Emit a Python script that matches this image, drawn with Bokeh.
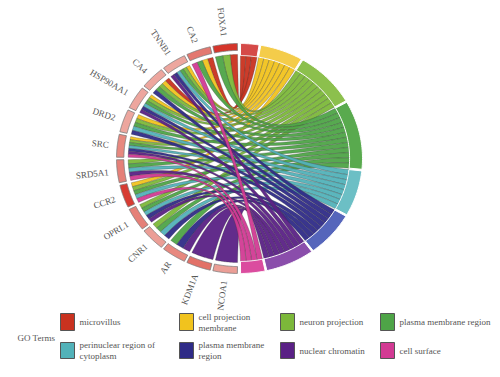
import numpy as np
from bokeh.plotting import figure
from bokeh.models import Range1d
from bokeh.core.properties import value
from bokeh.embed import file_html
from bokeh.resources import INLINE

# ---------------- data ----------------
genes = ["NCOA1", "KDM1A", "AR", "CNR1", "OPRL1", "CCR2", "SRD5A1", "SRC",
         "DRD2", "HSP90AA1", "CA4", "TNNB1", "CA2", "FOXA1"]
logfc = [0.30, 0.60, 0.45, 0.30, 0.50, 0.95, 0.50, 0.45,
         0.25, 0.25, 0.25, 0.25, 0.55, 1.00]
terms = ["microvillus", "cell projection membrane", "neuron projection",
         "plasma membrane region", "perinuclear region of cytoplasm",
         "plasma membrane region", "nuclear chromatin", "cell surface"]
legend_labels = ["microvillus", "cell projection\nmembrane", "neuron projection",
                 "plasma membrane region", "perinuclear region of\ncytoplasm",
                 "plasma membrane\nregion", "nuclear chromatin", "cell surface"]
# membership[gene][term]
membership = [
    [0, 0, 0, 0, 0, 0, 1, 0],  # NCOA1
    [0, 0, 0, 0, 0, 0, 1, 0],  # KDM1A
    [0, 0, 0, 1, 0, 1, 1, 0],  # AR
    [0, 0, 1, 1, 1, 1, 0, 0],  # CNR1
    [0, 0, 1, 1, 1, 1, 1, 0],  # OPRL1
    [0, 1, 1, 1, 1, 0, 0, 1],  # CCR2
    [0, 0, 1, 1, 1, 0, 1, 1],  # SRD5A1
    [0, 1, 1, 1, 1, 1, 1, 1],  # SRC
    [0, 1, 1, 1, 1, 1, 0, 0],  # DRD2
    [0, 1, 1, 1, 1, 1, 1, 0],  # HSP90AA1
    [1, 1, 1, 1, 0, 1, 0, 0],  # CA4
    [0, 1, 1, 1, 1, 1, 1, 0],  # TNNB1
    [1, 1, 0, 1, 0, 0, 0, 1],  # CA2
    [1, 0, 1, 1, 0, 0, 0, 0],  # FOXA1
]

# ---------------- style ----------------
term_colors = ["#c9321f", "#f1c31e", "#7cb83a", "#4ea447", "#52b2b9", "#2f2b87", "#5a2185", "#d23a93"]
band_colors = ["#d54a48", "#f4cc4a", "#8cc04d", "#59aa4e", "#6cbfc5", "#5565bb", "#8a4dab", "#db4c9f"]
FONT = value("Liberation Serif")

W, H = 500, 377
CX, CY, RX, RY = 239.0, 158.0, 123.0, 115.0


def X(px):
    return (px - CX) / RX


def Y(py):
    return (CY - py) / RY


def pt(theta_deg, r):
    t = np.radians(theta_deg)
    return r * np.sin(t), r * np.cos(t)


def arc(a1, a2, r, n=30):
    th = np.linspace(a1, a2, n)
    x, y = pt(th, r)
    return list(x), list(y)


def band(a1, a2, r1, r2):
    xo, yo = arc(a1, a2, r2)
    xi, yi = arc(a2, a1, r1)
    return xo + xi, yo + yi


def bez(p0, p1, n=40):
    t = np.linspace(0, 1, n)
    x = (1 - t) ** 2 * p0[0] + t ** 2 * p1[0]
    y = (1 - t) ** 2 * p0[1] + t ** 2 * p1[1]
    return list(x), list(y)


def lerp_color(c1, c2, f):
    a = [int(c1[i:i + 2], 16) for i in (1, 3, 5)]
    b = [int(c2[i:i + 2], 16) for i in (1, 3, 5)]
    return "#%02x%02x%02x" % tuple(int(round(a[k] + (b[k] - a[k]) * f)) for k in range(3))


M = np.array(membership)
ng, nt = M.shape
term_counts = M.sum(axis=0)

# term segments (right half)
t_start, t_end, t_gap = 0.5, 179.5, 0.8
unit = (t_end - t_start - (nt - 1) * t_gap) / term_counts.sum()
term_arcs = []
a = t_start
for t in range(nt):
    term_arcs.append((a, a + term_counts[t] * unit))
    a += term_counts[t] * unit + t_gap

# gene segments (left half)
g_start, g_end, g_gap = 181.0, 359.0, 1.3
gw = (g_end - g_start - (ng - 1) * g_gap) / ng
gene_arcs = [(g_start + i * (gw + g_gap), g_start + i * (gw + g_gap) + gw) for i in range(ng)]

R_RIB = 0.905
R_TERM_IN = 0.895

gene_sub = {}
for g in range(ng):
    ts = [t for t in range(nt - 1, -1, -1) if M[g, t]]
    a1, a2 = gene_arcs[g]
    w = (a2 - a1) / len(ts)
    for k, t in enumerate(ts):
        gene_sub[(g, t)] = (a1 + k * w, a1 + (k + 1) * w)
term_sub = {}
for t in range(nt):
    gs = [g for g in range(ng - 1, -1, -1) if M[g, t]]
    b1, b2 = term_arcs[t]
    w = (b2 - b1) / len(gs)
    for k, g in enumerate(gs):
        term_sub[(g, t)] = (b1 + k * w, b1 + (k + 1) * w)

p = figure(width=W, height=H, output_backend="svg", toolbar_location=None,
           x_range=Range1d(X(0), X(W)), y_range=Range1d(Y(H), Y(0)),
           x_axis_type=None, y_axis_type=None, min_border=0)
p.grid.visible = False
p.outline_line_color = None
p.background_fill_color = "white"
p.border_fill_color = "white"

# ribbons
for t in range(nt):
    xs, ys = [], []
    for g in range(ng - 1, -1, -1):
        if not M[g, t]:
            continue
        a1, a2 = gene_sub[(g, t)]
        b1, b2 = term_sub[(g, t)]
        gx, gy = arc(a1, a2, R_RIB)
        c1x, c1y = bez(pt(a2, R_RIB), pt(b1, R_TERM_IN))
        tx, ty = arc(b1, b2, R_TERM_IN)
        c2x, c2y = bez(pt(b2, R_TERM_IN), pt(a1, R_RIB))
        xs.append(gx + c1x + tx + c2x)
        ys.append(gy + c1y + ty + c2y)
    p.patches(xs, ys, fill_color=term_colors[t], fill_alpha=0.95,
              line_color="#3a3a3a", line_width=0.5, line_alpha=0.6)

# term bands
for t in range(nt):
    bx, by = band(term_arcs[t][0], term_arcs[t][1], R_TERM_IN, 1.0)
    p.patch(bx, by, fill_color=band_colors[t], line_color="#ffffff", line_width=1.0)

# gene bands + labels
for g in range(ng):
    a1, a2 = gene_arcs[g]
    bx, by = band(a1, a2, 0.94, 1.0)
    p.patch(bx, by, fill_color=lerp_color("#f5cbc4", "#d5352b", logfc[g]),
            line_color="#7a7a7a", line_width=0.8)
    mid = (a1 + a2) / 2
    lx, ly = pt(mid, 1.07)
    th = np.radians(mid)
    ang = np.arctan2(RY * np.cos(th), RX * np.sin(th)) + np.pi
    p.text(x=[lx], y=[ly], text=[genes[g]], angle=ang, text_align="right",
           text_baseline="middle", text_font=FONT, text_font_size="9px",
           text_color="#555555")

# legend
p.text(x=[X(17)], y=[Y(337)], text=["GO Terms"], text_align="left",
       text_baseline="middle", text_font=FONT, text_font_size="9px", text_color="#555555")
sq_x = [60, 179, 280, 380]
row_y = [(313, 330), (342, 358)]
for t in range(nt):
    r, c = divmod(t, 4)
    top, bot = row_y[r]
    p.quad(left=[X(sq_x[c])], right=[X(sq_x[c] + 14)], top=[Y(top)], bottom=[Y(bot)],
           fill_color=term_colors[t], line_color="#555555", line_width=1)
    lines = legend_labels[t].split("\n")
    yc = (top + bot) / 2
    offs = [0] if len(lines) == 1 else [-5.5, 5.5]
    for ln, o in zip(lines, offs):
        p.text(x=[X(sq_x[c] + 19)], y=[Y(yc + o)], text=[ln], text_align="left",
               text_baseline="middle", text_font=FONT, text_font_size="9px",
               text_color="#555555")

open("out.html", "w").write(file_html(p, INLINE))
